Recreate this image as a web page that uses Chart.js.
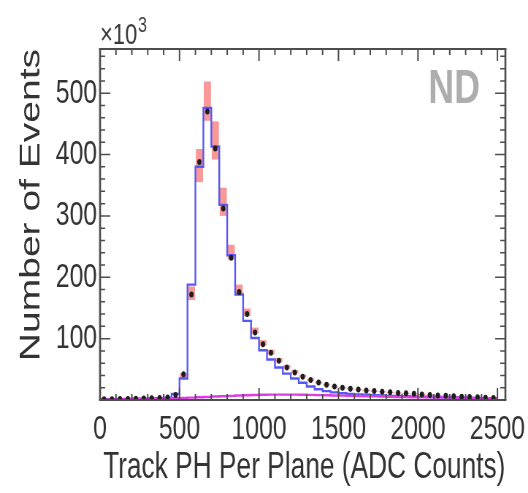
<!DOCTYPE html>
<html><head><meta charset="utf-8">
<script src="https://cdn.jsdelivr.net/npm/chart.js@4.4.1/dist/chart.umd.min.js"></script>
<style>
html,body{margin:0;padding:0;background:#fff;overflow:hidden;width:528px;height:493px;}
#c{display:block;transform:scaleX(0.7303);transform-origin:0 0;filter:blur(0.45px);}
</style></head><body>
<canvas id="c" width="723" height="493"></canvas>
<script>
// ---- data (counts in units of 10^3 events) ----
const binLowEdges = [0,50,100,150,200,250,300,350,400,450,500,550,600,650,700,750,800,850,900,950,
  1000,1050,1100,1150,1200,1250,1300,1350,1400,1450,1500,1550,1600,1650,1700,1750,1800,1850,1900,1950,
  2000,2050,2100,2150,2200,2250,2300,2350,2400,2450];
const binUpperEdge = 2500;
const binWidth = 50;

const dataCounts = [1.1,1.3,1.5,1.8,2.0,2.3,2.7,3.1,3.9,8,
  42,172,388,470,410,312,232,176,140,110,
  91,77,64,53,45,38,32.5,28.5,25,22,
  20,18.5,17,15.5,14.5,13.5,12.5,11.5,10.8,10,
  9,8.2,7.4,6.8,6,5.4,4.8,4.3,3.8,3.3];

const mcCounts = [1.1,1.3,1.5,1.8,2.0,2.3,2.7,3.1,3.9,10,
  35,188,380,476,413,318,236,172,129,101,
  81,66,53,43,35,28,22,17.5,14.5,12.5,
  11,10,9.2,8.5,7.8,7.3,6.8,6.4,6.0,5.6,
  5.2,4.9,4.6,4.3,4.0,3.7,3.5,3.2,3.0,2.8];

const bkgCounts = [1.0,1.1,1.3,1.5,1.7,1.9,2.1,2.3,2.5,2.8,
  3.3,3.8,4.4,5.0,5.6,6.2,6.8,7.3,7.8,8.2,
  8.5,8.7,8.8,8.8,8.7,8.5,8.3,8.0,7.7,7.4,
  7.1,6.8,6.5,6.2,5.9,5.6,5.3,5.0,4.8,4.6,
  4.4,4.2,4.0,3.8,3.6,3.4,3.2,3.0,2.8,2.6];

const mcBandCenter = [1.1,1.3,1.5,1.8,2.0,2.3,2.7,3.1,3.9,9,
  40,174,382,487,423,323,241,180,143,113,
  93,78,65,54,46,39,33,28.5,25,22,
  20,18.5,17,15.5,14.5,13.5,12.5,11.5,10.8,10,
  9,8.2,7.4,6.8,6,5.4,4.8,4.3,3.8,3.3];

const mcBandHalf = [0.4,0.4,0.4,0.4,0.4,0.4,0.4,0.4,0.5,1.2,
  4,11,27,32,31,23,12,8,6,5,
  4.5,4,3.5,3,2.5,2.2,2,1.8,1.6,1.5,
  1.4,1.3,1.2,1.2,1.1,1.1,1,1,1,1,
  0.9,0.9,0.8,0.8,0.8,0.7,0.7,0.7,0.6,0.6];

const xTickValues = [0,500,1000,1500,2000,2500];
const yTickValues = [100,200,300,400,500];
const xRange = [0, 2550];
const yRange = [0, 572];
const xTitle = 'Track PH Per Plane (ADC Counts)';
const yTitle = 'Number of Events';
const detectorLabel = 'ND';

// ---- helpers to build library data ----
function stepPoints(vals) {
  const pts = binLowEdges.map((e, i) => ({x: e, y: vals[i]}));
  pts.push({x: binUpperEdge, y: vals[vals.length - 1]});
  return pts;
}
const centers = binLowEdges.map(e => e + binWidth / 2);

const FONT = '"Liberation Sans", Arial, Helvetica, sans-serif';
const X_MINOR_STEP = 100, X_MAJOR_STEP = 500;
const Y_MINOR_STEP = 20, Y_MAJOR_STEP = 100;

const axisDecor = {
  id: 'axisDecor',
  afterDatasetsDraw(chart) {
    const {ctx, chartArea: a, scales: {x, y}} = chart;
    ctx.save();
    ctx.strokeStyle = '#4d4d4d';
    ctx.lineCap = 'butt';
    ctx.lineWidth = 2.0;
    for (let v = x.min; v <= x.max + 1e-9; v += X_MINOR_STEP) {
      const px = x.getPixelForValue(v);
      const len = (v % X_MAJOR_STEP === 0) ? 12 : 6;
      ctx.beginPath();
      ctx.moveTo(px, a.bottom); ctx.lineTo(px, a.bottom - len);
      ctx.moveTo(px, a.top); ctx.lineTo(px, a.top + len);
      ctx.stroke();
    }
    ctx.lineWidth = 1.5;
    for (let v = y.min; v <= y.max + 1e-9; v += Y_MINOR_STEP) {
      const py = y.getPixelForValue(v);
      const len = (v % Y_MAJOR_STEP === 0) ? 14 : 7;
      ctx.beginPath();
      ctx.moveTo(a.left, py); ctx.lineTo(a.left + len, py);
      ctx.moveTo(a.right, py); ctx.lineTo(a.right - len, py);
      ctx.stroke();
    }
    ctx.lineWidth = 2;
    ctx.beginPath();
    ctx.moveTo(a.left - 1.4, a.top); ctx.lineTo(a.right + 1.4, a.top);
    ctx.moveTo(a.left - 1.4, a.bottom); ctx.lineTo(a.right + 1.4, a.bottom);
    ctx.stroke();
    ctx.lineWidth = 2.7;
    ctx.beginPath();
    ctx.moveTo(a.left, a.top); ctx.lineTo(a.left, a.bottom);
    ctx.moveTo(a.right, a.top); ctx.lineTo(a.right, a.bottom);
    ctx.stroke();
    ctx.restore();
  },
  afterDraw(chart) {
    const {ctx, chartArea: a} = chart;
    ctx.save();
    ctx.fillStyle = '#3a3a3a';
    ctx.textAlign = 'left';
    ctx.textBaseline = 'alphabetic';
    ctx.font = '30px ' + FONT;
    ctx.fillText('×10', a.left, 44);
    const w = ctx.measureText('×10').width;
    ctx.font = '22px ' + FONT;
    ctx.fillText('3', a.left + w + 1, 32);
    ctx.fillStyle = '#adadad';
    ctx.textAlign = 'center';
    ctx.font = 'bold 49px ' + FONT;
    ctx.fillText(detectorLabel, 622, 103);
    ctx.restore();
  }
};

new Chart(document.getElementById('c'), {
  type: 'line',
  data: {
    datasets: [
      {
        type: 'line', label: 'Data', order: 0,
        data: centers.map((c, i) => ({x: c, y: dataCounts[i]})),
        showLine: false, pointRadius: 3, pointHoverRadius: 3,
        pointBackgroundColor: '#1e1e1e', pointBorderColor: '#1e1e1e', pointBorderWidth: 0
      },
      {
        type: 'line', label: 'Background', order: 1,
        data: stepPoints(bkgCounts), stepped: true,
        borderColor: 'rgb(222,60,228)', borderWidth: 2.4, pointRadius: 0, fill: false
      },
      {
        type: 'line', label: 'MC', order: 2,
        data: stepPoints(mcCounts), stepped: true,
        borderColor: 'rgb(88,88,245)', borderWidth: 2.4, pointRadius: 0, fill: false
      },
      {
        type: 'bar', label: 'MC syst.', order: 3,
        data: centers.map((c, i) => ({x: c, y: [mcBandCenter[i] - mcBandHalf[i], mcBandCenter[i] + mcBandHalf[i]]})),
        backgroundColor: 'rgba(248,112,112,0.72)', borderWidth: 0,
        barPercentage: 0.9, categoryPercentage: 1.0, grouped: false
      }
    ]
  },
  options: {
    responsive: false, animation: false, devicePixelRatio: 1,
    layout: {padding: {top: 49, right: 31, left: 0, bottom: 0}},
    plugins: {legend: {display: false}, tooltip: {enabled: false}},
    scales: {
      x: {
        type: 'linear', min: xRange[0], max: xRange[1], offset: false,
        grid: {display: false, drawTicks: false}, border: {display: false},
        afterBuildTicks: s => { s.ticks = xTickValues.map(v => ({value: v})); },
        afterFit: s => { s.height = 93; s.paddingLeft = 0; s.paddingRight = 0; },
        ticks: {autoSkip: false, maxRotation: 0, minRotation: 0, padding: 9,
          callback: v => String(v),
          color: '#333333', font: {family: FONT, size: 34}},
        title: {display: true, text: xTitle, align: 'end', color: '#333333',
          font: {family: FONT, size: 36, lineHeight: 1.2}, padding: {top: 0, bottom: 3}}
      },
      y: {
        type: 'linear', min: yRange[0], max: yRange[1],
        grid: {display: false, drawTicks: false}, border: {display: false},
        afterBuildTicks: s => { s.ticks = yTickValues.map(v => ({value: v})); },
        afterFit: s => { s.width = 137; s.paddingTop = 0; s.paddingBottom = 0; },
        ticks: {autoSkip: false, padding: 4, callback: v => String(v),
          color: '#333333', font: {family: FONT, size: 34}},
        title: {display: true, text: yTitle, align: 'end', color: '#333333',
          font: {family: FONT, size: 39, lineHeight: 1.2}, padding: {top: 20, bottom: 0}}
      }
    }
  },
  plugins: [axisDecor]
});
</script>
</body></html>
